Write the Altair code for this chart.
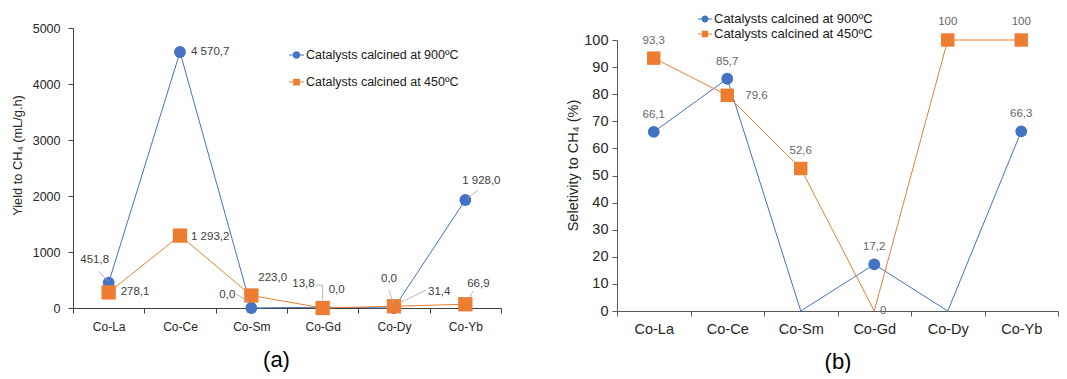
import altair as alt
import pandas as pd

categories = ["Co-La", "Co-Ce", "Co-Sm", "Co-Gd", "Co-Dy", "Co-Yb"]
series_names = ["Catalysts calcined at 900ºC", "Catalysts calcined at 450ºC"]
colors = ["#4472C4", "#ED7D31"]

yield_900 = [451.8, 4570.7, 0.0, 13.8, 0.0, 1928.0]
yield_450 = [278.1, 1293.2, 223.0, 0.0, 31.4, 66.9]
sel_900 = [66.1, 85.7, 0.0, 17.2, 0.0, 66.3]
sel_450 = [93.3, 79.6, 52.6, 0.0, 100.0, 100.0]

yield_ticks = [0, 500, 1000, 1500, 2000, 2500, 3000, 3500, 4000, 4500, 5000]
sel_ticks = [0, 10, 20, 30, 40, 50, 60, 70, 80, 90, 100]

FONT = "Liberation Sans"


def fmt_yield(v):
    return f"{v:,.1f}".replace(",", " ").replace(".", ",")


def fmt_sel(v):
    if float(v).is_integer():
        return str(int(v))
    return f"{v:.1f}".replace(".", ",")


def make_df(v900, v450, fmt):
    rows = []
    for s, vals in enumerate([v900, v450]):
        for i, (c, v) in enumerate(zip(categories, vals)):
            rows.append({"cat": c, "i": i, "s": s, "series": series_names[s],
                         "value": v, "label": fmt(v)})
    return pd.DataFrame(rows)


# label placement styles: (series index, category) -> (dx, dy, align)
left_labels = {
    (0, "Co-La"): (-14, -23, "center"),
    (0, "Co-Ce"): (11, 0, "left"),
    (0, "Co-Sm"): (-16, -13, "right"),
    (0, "Co-Gd"): (-8, -23, "right"),
    (0, "Co-Dy"): (-5, -29, "center"),
    (0, "Co-Yb"): (16, -19, "center"),
    (1, "Co-La"): (12, 0, "left"),
    (1, "Co-Ce"): (11, 1, "left"),
    (1, "Co-Sm"): (7, -18, "left"),
    (1, "Co-Gd"): (6, -18, "left"),
    (1, "Co-Dy"): (34, -14, "left"),
    (1, "Co-Yb"): (13, -20, "center"),
}
right_labels = {
    (0, "Co-La"): (0, -17, "center"),
    (0, "Co-Ce"): (0, -17, "center"),
    (0, "Co-Gd"): (0, -17, "center"),
    (0, "Co-Yb"): (0, -17, "center"),
    (1, "Co-La"): (0, -17, "center"),
    (1, "Co-Ce"): (18, 1, "left"),
    (1, "Co-Sm"): (0, -17, "center"),
    (1, "Co-Gd"): (9, 0, "center"),
    (1, "Co-Dy"): (0, -18, "center"),
    (1, "Co-Yb"): (0, -18, "center"),
}
# leader line styles: (series, category, x1, y1, x2, y2) pixel offsets from point
left_leaders = [
    (0, "Co-La", -10, -11, 0, -1),
    (0, "Co-Sm", -15, -14, -3, -6),
    (0, "Co-Gd", -7, -22, 0, -22),
    (0, "Co-Gd", 0, -22, 0, -7),
    (0, "Co-Dy", -5, -18, 0, -3),
    (1, "Co-Dy", 32, -16, 5, -3),
    (1, "Co-Yb", 8, -13, 2, -4),
    (0, "Co-Yb", 13, -10, 2, -2),
]

LINE_SEG = "M-1,-0.07L1,-0.07L1,0.07L-1,0.07Z"
CIRCLE_LEG = LINE_SEG + " M0.5,0A0.5,0.5 0 1,1 -0.5,0A0.5,0.5 0 1,1 0.5,0Z"
SQUARE_LEG = LINE_SEG + " M-0.45,-0.45L0.45,-0.45L0.45,0.45L-0.45,0.45Z"


def build_panel(df, ymax, yticks, ytitle, xtitle, w, h, st, labels, leaders,
                legend_kw, hide_zero):
    base = alt.Chart(df)
    xaxis = alt.Axis(
        labelAngle=0, tickBand="extent", tickSize=5, labelPadding=st["xlabpad"],
        labelFont=FONT, labelFontSize=st["xfs"], labelColor="#262626",
        domainColor=st["axcol"], tickColor=st["axcol"],
        titleFont=FONT, titleFontSize=22, titleFontWeight="normal",
        titleColor="#000000", titlePadding=st["xtitlepad"],
        **({"titleX": st["xtitlex"]} if "xtitlex" in st else {}),
    )
    xenc = alt.X("cat:N", sort=categories,
                 scale=alt.Scale(domain=categories, paddingInner=0, paddingOuter=0),
                 axis=xaxis, title=xtitle)
    yaxis = alt.Axis(
        values=yticks, format="d", grid=False, tickSize=5, labelPadding=st["ylabpad"],
        labelFont=FONT, labelFontSize=st["yfs"], labelColor="#262626",
        domainColor=st["axcol"], tickColor=st["axcol"],
        titleFont=FONT, titleFontSize=st["ytfs"], titleFontWeight="normal",
        titleColor="#262626", titlePadding=st["ytitlepad"], titleY=st["ytitley"],
    )
    yenc = alt.Y("value:Q",
                 scale=alt.Scale(domain=[0, ymax], nice=False, range=[h, st["ytop"]]),
                 axis=yaxis, title=ytitle)

    legend = alt.Legend(**legend_kw)
    layers = [
        base.mark_point(filled=True, opacity=0, size=10).encode(
            x=xenc, y=yenc,
            color=alt.Color("series:N", scale=alt.Scale(domain=series_names, range=colors),
                            legend=legend),
            shape=alt.Shape("series:N",
                            scale=alt.Scale(domain=series_names, range=[CIRCLE_LEG, SQUARE_LEG]),
                            legend=legend),
        )
    ]
    for s in (0, 1):
        sub = base.transform_filter(f"datum.s == {s}")
        layers.append(sub.mark_line(color=colors[s], strokeWidth=1).encode(
            x=xenc, y=yenc, order=alt.Order("i:Q")))
        pts = sub.transform_filter("datum.value > 0") if hide_zero else sub
        if s == 0:
            layers.append(pts.mark_point(filled=True, shape="circle", size=st["csize"],
                                         color=colors[s], opacity=1).encode(x=xenc, y=yenc))
        else:
            layers.append(pts.mark_point(filled=True, shape="square", size=st["ssize"],
                                         color=colors[s], opacity=1).encode(x=xenc, y=yenc))
    for (s, c, x1, y1, x2, y2) in leaders:
        layers.append(
            base.transform_filter(f"datum.s == {s} && datum.cat == '{c}'")
            .mark_rule(color="#A6A6A6", strokeWidth=0.8, xOffset=x1, yOffset=y1,
                       x2Offset=x2, y2Offset=y2)
            .encode(x=alt.X("cat:N", bandPosition=0.5), x2=alt.X2("cat:N", bandPosition=0.5),
                    y=alt.Y("value:Q"), y2=alt.Y2("value:Q"))
        )
    for (s, c), (dx, dy, align) in labels.items():
        layers.append(
            base.transform_filter(f"datum.s == {s} && datum.cat == '{c}'")
            .mark_text(dx=dx, dy=dy, align=align, baseline="middle", font=FONT,
                       fontSize=st["dlfs"], color=st["dlcol"])
            .encode(x=xenc, y=yenc, text="label:N")
        )
    return alt.layer(*layers).properties(width=w, height=h)


left_df = make_df(yield_900, yield_450, fmt_yield)
right_df = make_df(sel_900, sel_450, fmt_sel)

left_style = dict(xfs=12, yfs=12.5, ytfs=12.8, xlabpad=8, ylabpad=8, ytitlepad=8,
                  xtitlepad=17, xtitlex=203, axcol="#404040", csize=140, ssize=205,
                  dlfs=11.5, dlcol="#404040", ytop=0, ytitley=127)
right_style = dict(xfs=14.5, yfs=14.5, ytfs=14.5, xlabpad=6, ylabpad=4, ytitlepad=3,
                   xtitlepad=16, axcol="#595959", csize=140, ssize=180,
                   dlfs=11.5, dlcol="#666666", ytop=12, ytitley=137)

left_legend = dict(orient="none", legendX=216, legendY=19.5, title=None, symbolSize=225,
                   labelFont=FONT, labelFontSize=12.5, labelColor="#1a1a1a", rowPadding=13,
                   symbolOpacity=1, symbolStrokeWidth=0, padding=0, labelOffset=2)
right_legend = dict(orient="none", legendX=81, legendY=-16, title=None, symbolSize=196,
                    labelFont=FONT, labelFontSize=13, labelColor="#1a1a1a", rowPadding=1,
                    symbolOpacity=1, symbolStrokeWidth=0, padding=0, labelOffset=2)

left = build_panel(left_df, 5000, yield_ticks, "Yield to CH₄ (mL/g.h)", "(a)", 428, 280,
                   left_style, left_labels, left_leaders, left_legend, False)
right = build_panel(right_df, 100, sel_ticks, "Seletivity to CH₄ (%)", "(b)", 441, 283,
                    right_style, right_labels, [], right_legend, True)

chart = alt.hconcat(left, right, spacing=63).resolve_scale(
    color="independent", shape="independent"
).resolve_legend(color="independent", shape="independent").properties(
    padding={"left": 11, "top": 12, "right": 0, "bottom": 0},
    background="white",
).configure_view(stroke=None)

chart.save("out.html", embed_options={"renderer": "svg", "actions": False})
